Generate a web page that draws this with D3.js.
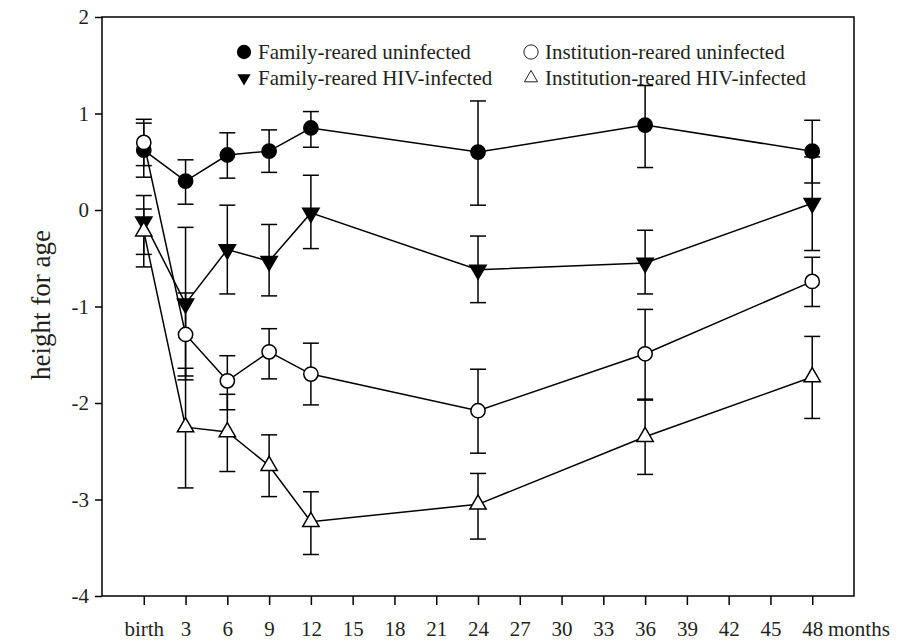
<!DOCTYPE html>
<html>
<head>
<meta charset="utf-8">
<script src="https://cdn.jsdelivr.net/npm/d3@7"></script>
<style>
  body { margin: 0; background: #fff; }
  text { font-family: "Liberation Serif", "DejaVu Serif", serif; fill: #231f20; }
</style>
</head>
<body>
<div id="chart"></div>
<script>
// months of follow-up (0 = birth)
var months = [0, 3, 6, 9, 12, 24, 36, 48]
var tickMonths = d3.range(0, 49, 3)
var yTicks = [-4, -3, -2, -1, 0, 1, 2]

// height-for-age z-scores, with lower / upper error bar ends
var famUninf   = [0.62, 0.30, 0.57, 0.61, 0.85, 0.60, 0.88, 0.61]
var famUninfLo = [0.34, 0.06, 0.33, 0.39, 0.65, 0.05, 0.44, 0.28]
var famUninfHi = [0.90, 0.52, 0.80, 0.83, 1.02, 1.13, 1.29, 0.93]

var famHiv   = [-0.12, -0.97, -0.41, -0.53, -0.03, -0.62, -0.55, 0.07]
var famHivLo = [-0.46, -1.76, -0.87, -0.89, -0.40, -0.96, -0.87, -0.42]
var famHivHi = [0.01, -0.18, 0.05, -0.15, 0.36, -0.27, -0.21, 0.55]

var instUninf   = [0.70, -1.29, -1.77, -1.47, -1.70, -2.08, -1.49, -0.74]
var instUninfLo = [0.46, -1.72, -2.07, -1.75, -2.02, -2.52, -1.97, -1.00]
var instUninfHi = [0.94, -0.86, -1.51, -1.23, -1.38, -1.65, -1.03, -0.49]

var instHiv   = [-0.22, -2.25, -2.30, -2.65, -3.23, -3.05, -2.35, -1.73]
var instHivLo = [-0.59, -2.88, -2.71, -2.97, -3.57, -3.41, -2.74, -2.16]
var instHivHi = [0.15, -1.64, -1.91, -2.33, -2.92, -2.73, -1.96, -1.31]

var series = [
  {name: "Family-reared uninfected", v: famUninf, lo: famUninfLo, hi: famUninfHi, shape: "circle", fill: "#000"},
  {name: "Family-reared HIV-infected", v: famHiv, lo: famHivLo, hi: famHivHi, shape: "down", fill: "#000"},
  {name: "Institution-reared uninfected", v: instUninf, lo: instUninfLo, hi: instUninfHi, shape: "circle", fill: "#fff"},
  {name: "Institution-reared HIV-infected", v: instHiv, lo: instHivLo, hi: instHivHi, shape: "up", fill: "#fff"}
]

var width = 898,
    height = 641

var svg = d3.select("#chart")
  .append("svg")
    .attr("width", width)
    .attr("height", height)

var x = d3.scaleLinear().domain([-3, 51]).range([102, 854])
var y = d3.scaleLinear().domain([-4, 2]).range([596, 17])

// axes
var xAxis = svg.append("g")
  .attr("transform", "translate(0," + y(-4) + ")")
  .call(d3.axisBottom(x).tickValues(tickMonths).tickSize(9).tickPadding(16)
    .tickFormat(function(d) { return d === 0 ? "birth" : d }))
xAxis.select(".domain").remove()

var yAxis = svg.append("g")
  .attr("transform", "translate(" + x(-3) + ",0)")
  .call(d3.axisLeft(y).tickValues(yTicks).tickSize(7).tickPadding(6)
    .tickFormat(function(d) { return String(d) }))
yAxis.select(".domain").remove()

svg.selectAll(".tick line").attr("stroke", "#000").attr("stroke-width", 1.5)
svg.selectAll(".tick text").style("font-size", "21px").attr("fill", "#231f20")

// frame
svg.append("rect")
  .attr("x", x(-3)).attr("y", y(2))
  .attr("width", x(51) - x(-3)).attr("height", y(-4) - y(2))
  .attr("fill", "none").attr("stroke", "#000").attr("stroke-width", 1.5)

svg.append("text")
  .attr("x", 828).attr("y", 636)
  .style("font-size", "21px")
  .text("months")

svg.append("text")
  .attr("transform", "translate(50,305) rotate(-90)")
  .attr("text-anchor", "middle")
  .style("font-size", "27px")
  .text("height for age")

function symbolPath(shape, size) {
  if (shape === "circle") return d3.symbol().type(d3.symbolCircle).size(size)()
  return d3.symbol().type(d3.symbolTriangle).size(size)()
}

// error bars
var cap = 8
series.forEach(function(s) {
  var g = svg.append("g").attr("stroke", "#000").attr("stroke-width", 1.5)
  months.forEach(function(m, i) {
    g.append("line")
      .attr("x1", x(m)).attr("x2", x(m))
      .attr("y1", y(s.lo[i])).attr("y2", y(s.hi[i]))
    g.append("line")
      .attr("x1", x(m) - cap).attr("x2", x(m) + cap)
      .attr("y1", y(s.lo[i])).attr("y2", y(s.lo[i]))
    g.append("line")
      .attr("x1", x(m) - cap).attr("x2", x(m) + cap)
      .attr("y1", y(s.hi[i])).attr("y2", y(s.hi[i]))
  })
})

// connecting lines
var line = d3.line()
  .x(function(d) { return x(d[0]) })
  .y(function(d) { return y(d[1]) })

series.forEach(function(s) {
  svg.append("path")
    .datum(months.map(function(m, i) { return [m, s.v[i]] }))
    .attr("d", line)
    .attr("fill", "none")
    .attr("stroke", "#000")
    .attr("stroke-width", 1.5)
})

// markers
series.forEach(function(s) {
  svg.selectAll(null)
    .data(months.map(function(m, i) { return [m, s.v[i]] }))
    .enter()
    .append("path")
    .attr("d", symbolPath(s.shape, s.shape === "circle" ? 160 : 115))
    .attr("transform", function(d) {
      return "translate(" + x(d[0]) + "," + y(d[1]) + ")" + (s.shape === "down" ? " rotate(180)" : "")
    })
    .attr("fill", s.fill)
    .attr("stroke", "#000")
    .attr("stroke-width", 1.5)
})

// legend
var legendPos = [[244, 59], [244, 85], [531, 59], [531, 85]]
series.forEach(function(s, i) {
  var p = legendPos[i]
  var open = s.fill === "#fff"
  svg.append("path")
    .attr("d", symbolPath(s.shape, s.shape === "circle" ? 160 : 75))
    .attr("transform", "translate(" + p[0] + "," + (p[1] - 7) + ")" + (s.shape === "down" ? " rotate(180)" : ""))
    .attr("fill", s.fill)
    .attr("stroke", open ? "#231f20" : "none")
    .attr("stroke-width", 1)
  svg.append("text")
    .attr("x", p[0] + 14).attr("y", p[1])
    .style("font-size", "21px")
    .text(s.name)
})
</script>
</body>
</html>
